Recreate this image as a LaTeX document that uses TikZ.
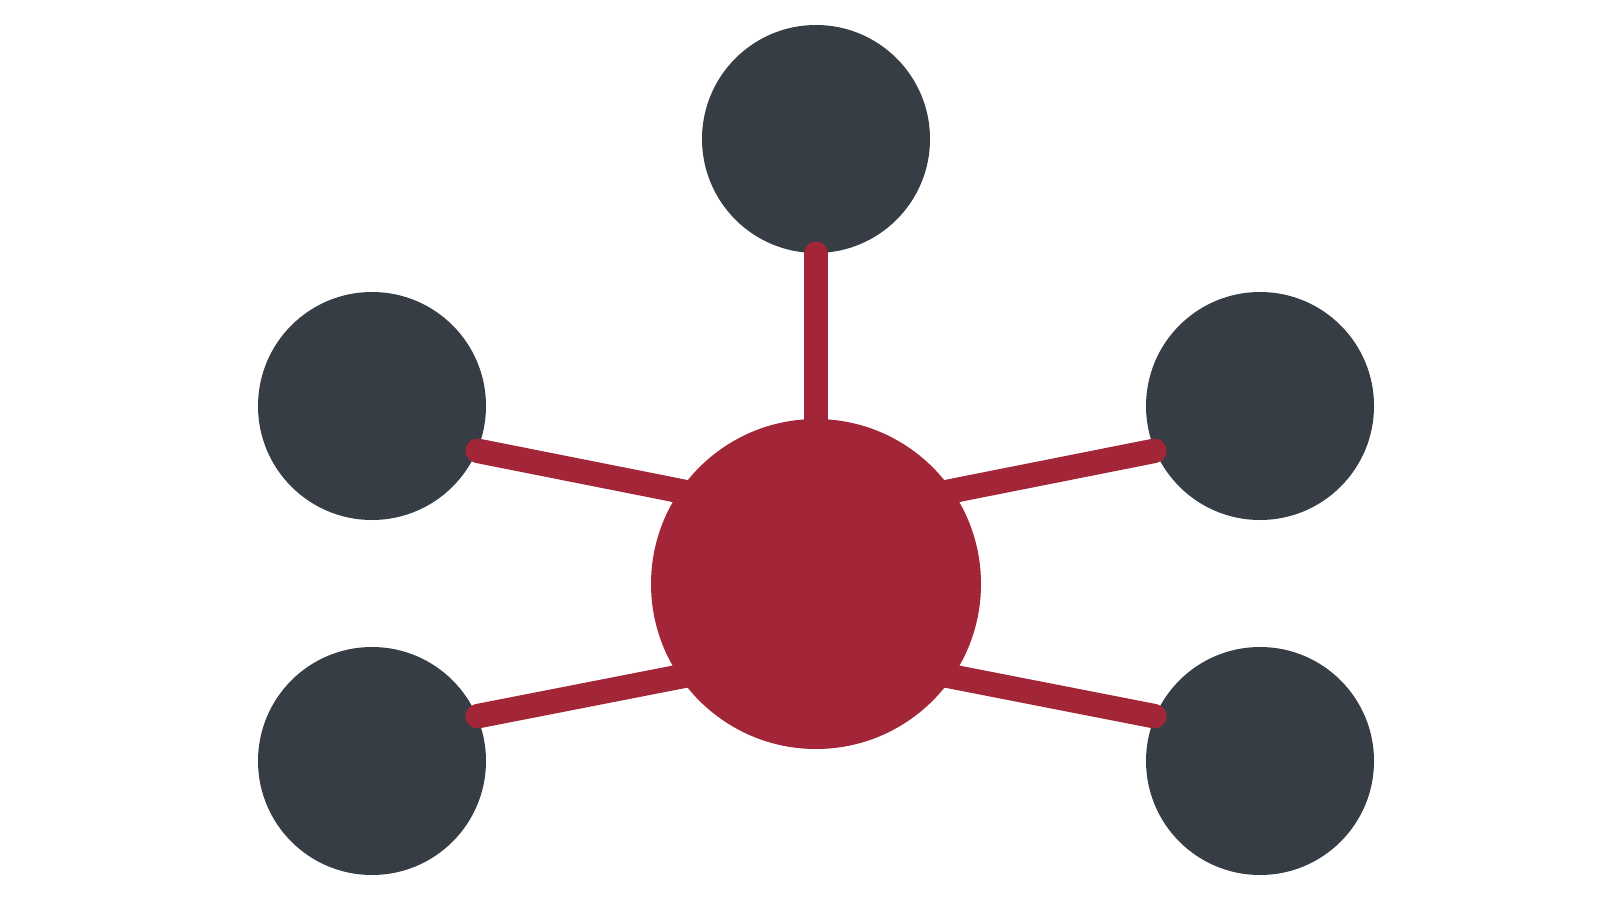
\documentclass[tikz,border=0pt]{standalone}
\usepackage{tikz}
\usetikzlibrary{positioning}

\definecolor{hubred}{RGB}{163,38,56}
\definecolor{leafgray}{RGB}{55,61,69}

\begin{document}
\begin{tikzpicture}
    [%%%%%%%%%%%%%%%%%%%%%%%%%%%%%%
    leaf/.style={circle,fill=leafgray,inner sep=0pt,minimum size=2.28cm},
    hubnode/.style={circle,fill=hubred,inner sep=0pt,minimum size=3.30cm},
    spoke/.style={hubred,line width=0.245cm,line cap=round},
    ]%%%%%%%%%%%%%%%%%%%%%%%%%%%%%%

    \useasboundingbox (0,0) rectangle (16,9);

    % leaves
    \node[leaf] at (8.16,7.61) (top){};
    \node[leaf] at (3.72,4.94) (upleft){};
    \node[leaf] at (12.60,4.94) (upright){};
    \node[leaf] at (3.72,1.39) (lowleft){};
    \node[leaf] at (12.60,1.39) (lowright){};

    % hub (placeholder for anchors)
    \coordinate (hubc) at (8.16,3.16);
    \coordinate (hubup) at (8.16,3.82);
    \coordinate (hubdown) at (8.16,2.50);

    % spokes
    \draw[spoke] (top.south) -- (hubc);
    \draw[spoke] (upleft.-23) -- (hubup);
    \draw[spoke] (upright.-157) -- (hubup);
    \draw[spoke] (lowleft.23) -- (hubdown);
    \draw[spoke] (lowright.157) -- (hubdown);

    % hub
    \node[hubnode] at (hubc) (hub){};
\end{tikzpicture}
\end{document}
